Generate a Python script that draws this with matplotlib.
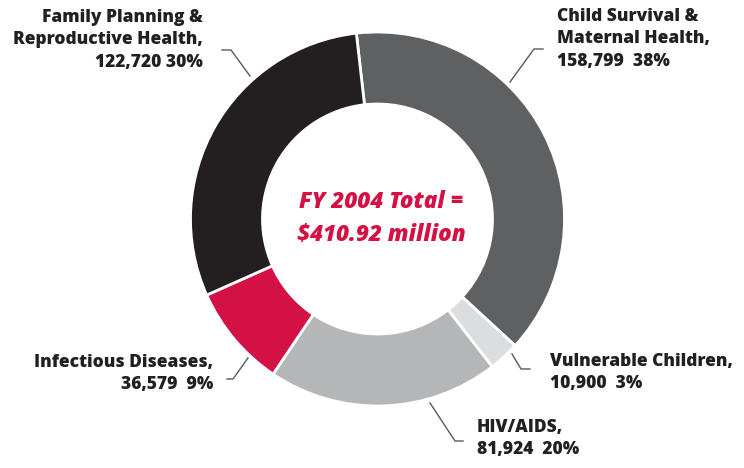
import matplotlib.pyplot as plt

# data
labels = ["Child Survival &\nMaternal Health,\n158,799  38%",
          "Vulnerable Children,\n10,900  3%",
          "HIV/AIDS,\n81,924  20%",
          "Infectious Diseases,\n36,579  9%",
          "Family Planning &\nReproductive Health,\n122,720 30%"]
values = [158799, 10900, 81924, 36579, 122720]
colors = ["#5f6062", "#dcdddf", "#b5b6b8", "#d31145", "#231f20"]
center_text = "FY 2004 Total =\n$410.92 million"

W, H = 744, 468

def Y(y):
    # pixel row -> data y
    return H - y

fig = plt.figure(figsize=(7.44, 4.68), dpi=100)
ax = fig.add_axes([0, 0, 1, 1])

R = 187
ax.pie(values, colors=colors, startangle=96.5, counterclock=False,
       radius=R, center=(377.5, Y(219)),
       wedgeprops=dict(width=R * 0.385, edgecolor="white", linewidth=2))
ax.set_xlim(0, W)
ax.set_ylim(0, H)
ax.set_aspect("equal")
ax.axis("off")

# label text positions: (x, top of first line, ha)
label_pos = [(557, 8, "left"),
             (550, 353, "left"),
             (477, 419, "left"),
             (213, 354, "right"),
             (203, 9, "right")]
leaders = [[(543, 49), (534, 49), (510, 82)],
           [(530, 369), (521, 369), (512, 354)],
           [(463, 441), (455, 441), (430, 403)],
           [(227, 379), (233, 379), (248, 358)],
           [(222, 50), (231, 50), (250, 76)]]

txt_kw = dict(family=["Open Sans", "DejaVu Sans"], fontweight=800,
              fontsize=12.5, color="#231f20", linespacing=1.42)
for lab, (x, y, ha), pts in zip(labels, label_pos, leaders):
    ax.text(x, Y(y), lab, ha=ha, va="top", multialignment=ha, **txt_kw)
    xs = [p[0] for p in pts]
    ys = [Y(p[1]) for p in pts]
    ax.plot(xs, ys, color="#58595b", lw=1)

ax.text(381.5, Y(219), center_text, ha="center", va="center",
        family=["Open Sans", "DejaVu Sans"], fontweight=800, style="italic",
        fontsize=16.2, color="#d31145", linespacing=1.5)

plt.savefig("out.png", dpi=100)
